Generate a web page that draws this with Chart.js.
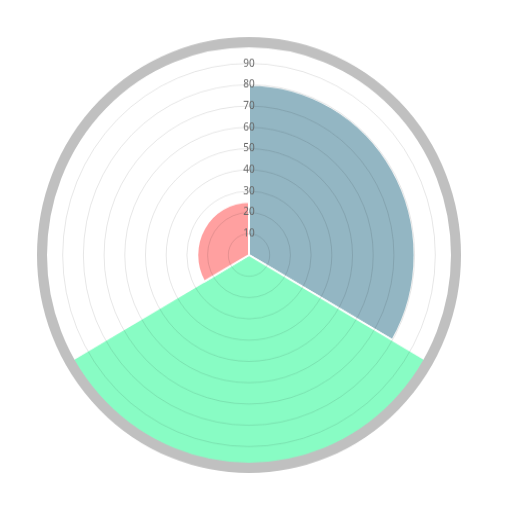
<!DOCTYPE html>
<html>
<head>
<meta charset="utf-8">
<script src="https://cdn.jsdelivr.net/npm/chart.js@4/dist/chart.umd.min.js"></script>
<style>
    html, body { margin: 0; padding: 0; background: #fff; }
    #polarChart { position: absolute; left: 0; top: 0; }
</style>
</head>
<body>
<canvas id="polarChart" width="498" height="496" style="width:498px;height:510px"></canvas>
<script>
// 数据
const categories = ['A', 'B', 'C'];
const values = [80, 100, 25];
const colors = ['rgba(128, 169, 184, 0.85)', 'rgba(115, 252, 186, 0.85)', 'rgba(255, 143, 143, 0.85)'];
const tickMax = 100;
const tickStep = 10;

document.addEventListener('DOMContentLoaded', function() {
    const ctx = document.getElementById('polarChart').getContext('2d');
    new Chart(ctx, {
        type: 'polarArea',
        data: {
            labels: categories,
            datasets: [{
                data: values,
                backgroundColor: colors,
                borderColor: '#fff',
                borderWidth: 2
            }]
        },
        options: {
            responsive: false,
            animation: false,
            layout: { padding: 34 },
            plugins: {
                legend: { display: false },
                tooltip: { enabled: false }
            },
            scales: {
                r: {
                    min: 0,
                    max: tickMax,
                    ticks: {
                        z: 1,
                        stepSize: tickStep,
                        showLabelBackdrop: false,
                        color: '#666',
                        font: { size: 10, family: 'Noto Sans' },
                        callback: function(v) { return v === tickMax ? '' : v; }
                    },
                    grid: {
                        z: 1,
                        color: function(c) { return c.tick && c.tick.value === tickMax ? '#c0c0c0' : 'rgba(0,0,0,0.1)'; },
                        lineWidth: function(c) { return c.tick && c.tick.value === tickMax ? 10 : 1; }
                    }
                }
            }
        }
    });
});
</script>
</body>
</html>
